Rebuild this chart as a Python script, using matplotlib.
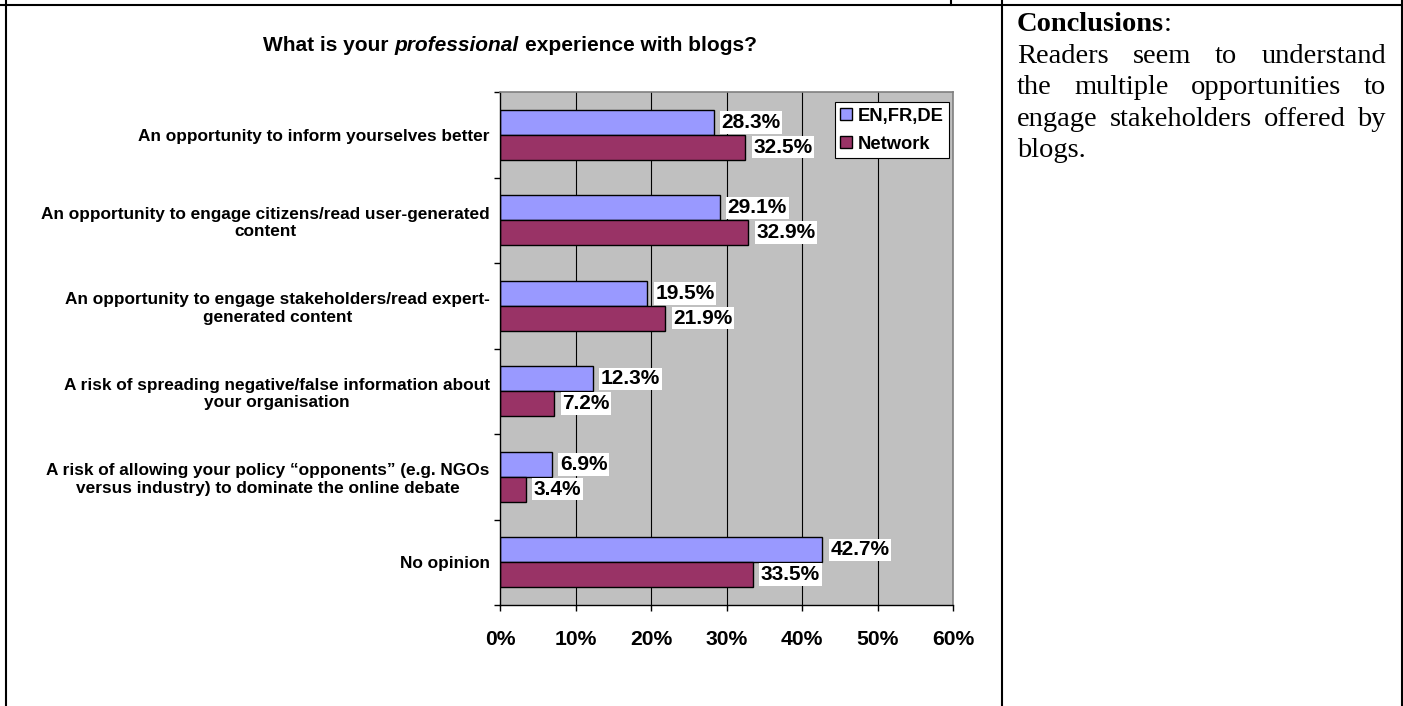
import numpy as np
import matplotlib
matplotlib.use('Agg')
import matplotlib.pyplot as plt
from matplotlib.lines import Line2D

# survey answers, top to bottom
categories = [
    "An opportunity to inform yourselves better",
    "An opportunity to engage citizens/read user-generated\ncontent",
    "An opportunity to engage stakeholders/read expert-\ngenerated content",
    "A risk of spreading negative/false information about\nyour organisation",
    "A risk of allowing your policy \u201copponents\u201d (e.g. NGOs\nversus industry) to dominate the online debate",
    "No opinion",
]
en_fr_de = [28.3, 29.1, 19.5, 12.3, 6.9, 42.7]
network = [32.5, 32.9, 21.9, 7.2, 3.4, 33.5]
series_names = ["EN,FR,DE", "Network"]
xticks = [0, 10, 20, 30, 40, 50, 60]

title_parts = ["What is your", "professional", "experience with blogs?"]
conclusion_head = "Conclusions"
conclusion_lines = [
    "Readers seem to understand",
    "the multiple opportunities to",
    "engage stakeholders offered by",
    "blogs.",
]

W, H = 1403, 706
fig = plt.figure(figsize=(W / 100, H / 100), dpi=100)
fig.patch.set_facecolor('white')


def fx(px):
    return px / W


def fy(py):
    return 1 - py / H


sans = 'Liberation Sans'
serif = 'Liberation Serif'

ax = fig.add_axes([fx(500), fy(605), fx(953) - fx(500), fy(92) - fy(605)])
ax.set_facecolor('#C0C0C0')

y = np.arange(len(categories))
h = 0.29
ax.barh(y - h / 2, en_fr_de, height=h, color='#9999FF', edgecolor='black',
        linewidth=1.0, label=series_names[0], zorder=2)
ax.barh(y + h / 2, network, height=h, color='#993366', edgecolor='black',
        linewidth=1.0, label=series_names[1], zorder=2)

for gx in xticks[1:-1]:
    ax.axvline(gx, color='black', linewidth=0.8, zorder=0.5)

ax.set_xlim(0, 60)
ax.set_ylim(len(categories) - 0.5, -0.5)

for side in ['top', 'right']:
    ax.spines[side].set_color('#808080')
    ax.spines[side].set_linewidth(1.2)
for side in ['left', 'bottom']:
    ax.spines[side].set_color('black')
    ax.spines[side].set_linewidth(1.0)

ax.set_xticks(xticks)
ax.set_xticklabels([f"{v}%" for v in xticks], fontfamily=sans,
                   fontweight='bold', fontsize=15.2)
ax.tick_params(axis='x', length=4.5, width=1.0, pad=13.5, color='black')

ax.set_yticks(y)
ax.set_yticklabels(categories, fontfamily=sans, fontweight='bold',
                   fontsize=12.4, multialignment='center')
ax.set_yticks(np.arange(-0.5, len(categories), 1), minor=True)
ax.tick_params(axis='y', which='major', length=0, pad=7.5)
ax.tick_params(axis='y', which='minor', length=4.5, width=1.0, color='black')

# value labels on white boxes
for vals, off in [(en_fr_de, -h / 2), (network, h / 2)]:
    for yi, v in zip(y, vals):
        ax.annotate(f"{v}%", xy=(v, yi + off), xytext=(8, 0),
                    textcoords='offset pixels', ha='left', va='center',
                    fontfamily=sans, fontweight='bold', fontsize=15,
                    bbox=dict(boxstyle='square,pad=0.08', fc='white', ec='none'),
                    zorder=3)

leg = ax.legend(loc='upper right', bbox_to_anchor=(0.991, 0.980),
                frameon=True, fancybox=False, edgecolor='black', framealpha=1,
                prop=dict(family=sans, weight='bold', size=13.2),
                handlelength=0.65, handleheight=0.65, handletextpad=0.3,
                borderpad=0.3, labelspacing=0.6, borderaxespad=0)
leg.get_frame().set_linewidth(0.8)

renderer = fig.canvas.get_renderer()


def text_width(s, **kw):
    t = fig.text(0, 0, s, **kw)
    w = t.get_window_extent(renderer).width
    t.remove()
    return w


def space_width(**kw):
    return text_width("a a", **kw) - text_width("aa", **kw)


# title with the italic word
tkw = dict(fontfamily=sans, fontweight='bold', fontsize=15)
styles = ['normal', 'italic', 'normal']
widths = [text_width(p, fontstyle=s, **tkw) for p, s in zip(title_parts, styles)]
sp = space_width(**tkw)
total = sum(widths) + sp * (len(widths) - 1)
x0 = 510 - total / 2
for p, s, w in zip(title_parts, styles, widths):
    fig.text(fx(x0), fy(51), p, fontstyle=s, va='baseline', ha='left', **tkw)
    x0 += w + sp

# conclusions cell, justified
ckw = dict(fontfamily=serif, fontsize=20.5)
left, right = 1017, 1386
base = 31
fig.text(fx(left), fy(base), conclusion_head, fontweight='bold', va='baseline', **ckw)
hw = text_width(conclusion_head, fontweight='bold', **ckw)
fig.text(fx(left + hw), fy(base), ":", va='baseline', **ckw)

for i, line in enumerate(conclusion_lines):
    yb = base + 31.6 * (i + 1)
    words = line.split()
    ws = [text_width(wd, **ckw) for wd in words]
    if i == len(conclusion_lines) - 1 or len(words) == 1:
        gap = space_width(**ckw)
    else:
        gap = (right - left - sum(ws)) / (len(words) - 1)
    xp = left
    for wd, w in zip(words, ws):
        fig.text(fx(xp), fy(yb), wd, va='baseline', ha='left', **ckw)
        xp += w + gap

# table borders
lw = 1.5
border = [
    ((0, W), (4.5, 4.5)),
    ((6, 6), (0, H)),
    ((1002, 1002), (0, H)),
    ((1401.5, 1401.5), (0, H)),
    ((951, 951), (0, 4.5)),
]
for xs, ys in border:
    fig.add_artist(Line2D([fx(v) for v in xs], [fy(v) for v in ys],
                          transform=fig.transFigure, color='black', linewidth=lw))

fig.savefig('out.png', dpi=100, facecolor='white')
